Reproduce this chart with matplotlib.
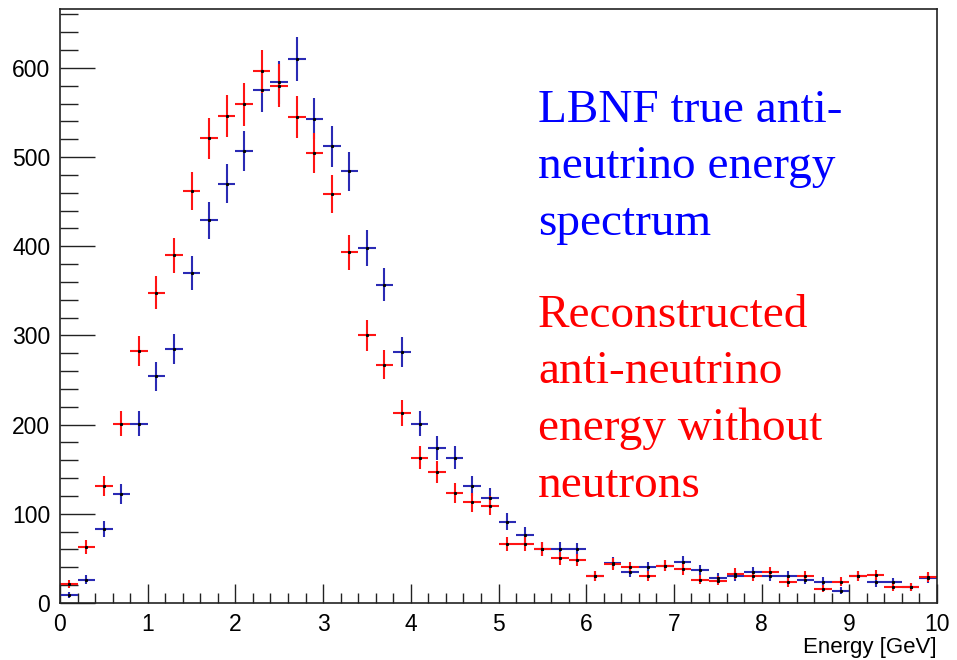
import numpy as np
import matplotlib
matplotlib.use("Agg")
import matplotlib.pyplot as plt
from matplotlib.ticker import MultipleLocator

# binning: 50 bins of 0.2 GeV between 0 and 10 GeV
bin_edges = np.linspace(0.0, 10.0, 51)
bin_centers = 0.5 * (bin_edges[:-1] + bin_edges[1:])
bin_halfwidth = 0.1

# LBNF true anti-neutrino energy spectrum (entries per bin)
true_counts = [9, 26, 83, 122, 201, 254, 285, 370, 429, 470,
               507, 575, 584, 610, 543, 512, 484, 398, 357, 281,
               201, 174, 163, 131, 118, 91, 76, 61, 61, 60,
               30, 45, 35, 40, 42, 46, 37, 28, 30, 35,
               30, 30, 26, 24, 14, 30, 23, 23, 18, 28]

# reconstructed anti-neutrino energy without neutrons
reco_counts = [21, 63, 131, 201, 283, 348, 390, 462, 521, 546,
               559, 596, 580, 545, 505, 459, 393, 300, 267, 213,
               163, 147, 123, 113, 109, 66, 66, 61, 50, 48,
               30, 44, 40, 30, 42, 38, 26, 25, 33, 30,
               35, 23, 30, 16, 24, 30, 31, 18, 18, 29]

blue_text = ["LBNF true anti-", "neutrino energy", "spectrum"]
red_text = ["Reconstructed", "anti-neutrino", "energy without", "neutrons"]

col_true = "#2a2ab4"
col_reco = "#ff1414"

W, H = 957, 660
fig = plt.figure(figsize=(W / 100, H / 100), dpi=100)
ax = fig.add_axes([60 / W, (H - 603) / H, (937 - 60) / W, (603 - 9) / H])


def draw_hist(counts, color):
    counts = np.asarray(counts, dtype=float)
    # poisson errors, horizontal bar spans the bin
    ax.errorbar(bin_centers, counts, xerr=bin_halfwidth, yerr=np.sqrt(counts),
                fmt="none", ecolor=color, elinewidth=1.5, capsize=0, zorder=2)
    ax.plot(bin_centers, counts, linestyle="none", marker="s", markersize=1.2,
            color="black", zorder=3)


draw_hist(true_counts, col_true)
draw_hist(reco_counts, col_reco)

ax.set_xlim(0, 10)
ax.set_ylim(0, 666)

ax.xaxis.set_major_locator(MultipleLocator(1))
ax.xaxis.set_minor_locator(MultipleLocator(0.2))
ax.yaxis.set_major_locator(MultipleLocator(100))
ax.yaxis.set_minor_locator(MultipleLocator(20))

ax.tick_params(axis="y", which="major", direction="in", length=25, width=1.0,
               color="#222222", pad=7)
ax.tick_params(axis="y", which="minor", direction="in", length=13, width=1.0,
               color="#222222")
ax.tick_params(axis="x", which="major", direction="in", length=13.5, width=1.0,
               color="#222222", pad=7)
ax.tick_params(axis="x", which="minor", direction="in", length=7, width=1.0,
               color="#222222")
ax.tick_params(top=False, right=False, which="both")

for lab in ax.get_xticklabels() + ax.get_yticklabels():
    lab.set_fontfamily("Liberation Sans")
    lab.set_fontsize(16.5)

for sp in ax.spines.values():
    sp.set_linewidth(1.2)
    sp.set_color("#222222")

fig.text(937 / W, 1 - 653 / H, "Energy [GeV]", ha="right", va="baseline",
         fontsize=16, family="Liberation Sans")

# annotation lines, serif like the slide text
for i, line in enumerate(blue_text):
    fig.text(538 / W, 1 - (121.7 + 56.7 * i) / H, line, color="#0000ff",
             fontsize=34, family="Liberation Serif", va="baseline", ha="left")
for i, line in enumerate(red_text):
    fig.text(538 / W, 1 - (326.7 + 56.7 * i) / H, line, color="#ff0000",
             fontsize=34, family="Liberation Serif", va="baseline", ha="left")

fig.savefig("out.png", dpi=100)
